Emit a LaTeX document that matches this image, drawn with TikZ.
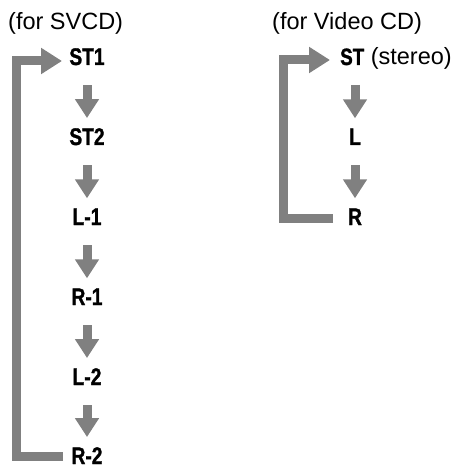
\documentclass[tikz,border=0pt]{standalone}
\usepackage{fontspec}
\setmainfont{Liberation Sans}
\newfontfamily\condbold[FakeStretch=0.8,FakeBold=1.2]{Liberation Sans Bold}
\usetikzlibrary{arrows.meta}
\definecolor{arrowgray}{RGB}{128,128,128}
\tikzset{
  lbl/.style={inner sep=0pt, anchor=base, font=\condbold\fontsize{24}{26}\selectfont},
  hdr/.style={inner sep=0pt, anchor=base west, font=\fontsize{23.5}{26}\selectfont},
  downarrow/.style={draw=arrowgray, line width=9pt,
    -{Triangle[width=23pt,length=19pt]}, shorten <=20pt, shorten >=10pt},
  looparrow/.style={draw=arrowgray, line width=9pt, line join=miter,
    -{Triangle[width=25pt,length=21pt]}}
}
\begin{document}
\begin{tikzpicture}[x=1pt,y=-1pt]
\useasboundingbox (0,0) rectangle (464,465);
% headers
\node[hdr] (h1) at (8,30) {(for SVCD)};
\node[hdr] (h2) at (272,30) {(for Video CD)};
% left column
\node[lbl] (st1) at (87,65) {ST1};
\node[lbl] (st2) at (87,145) {ST2};
\node[lbl] (l1) at (87,225) {L-1};
\node[lbl] (r1) at (87,305) {R-1};
\node[lbl] (l2) at (87,385) {L-2};
\node[lbl] (r2) at (87,464) {R-2};
\draw[downarrow] (st1.south) -- (st2.north);
\draw[downarrow] (st2.south) -- (l1.north);
\draw[downarrow] (l1.south) -- (r1.north);
\draw[downarrow] (r1.south) -- (l2.north);
\draw[downarrow] (l2.south) -- (r2.north);
\coordinate (lb) at (63,456.5);
\coordinate (lt) at (62,61);
\draw[looparrow] (lb) -| (16.5,61) -- (lt);
% right column
\node[inner sep=0pt, anchor=base west, font=\fontsize{23.5}{26}\selectfont] (st) at (340,65) {{\condbold ST} (stereo)};
\node[lbl] (l) at (355,145) {L};
\node[lbl] (r) at (355,225) {R};
\coordinate (stc) at (355,65);
\draw[downarrow] (stc) -- (l.north);
\draw[downarrow] (l.south) -- (r.north);
\coordinate (rb) at (333,218);
\coordinate (rt) at (330,60);
\draw[looparrow] (rb) -| (283,60) -- (rt);
\end{tikzpicture}
\end{document}
